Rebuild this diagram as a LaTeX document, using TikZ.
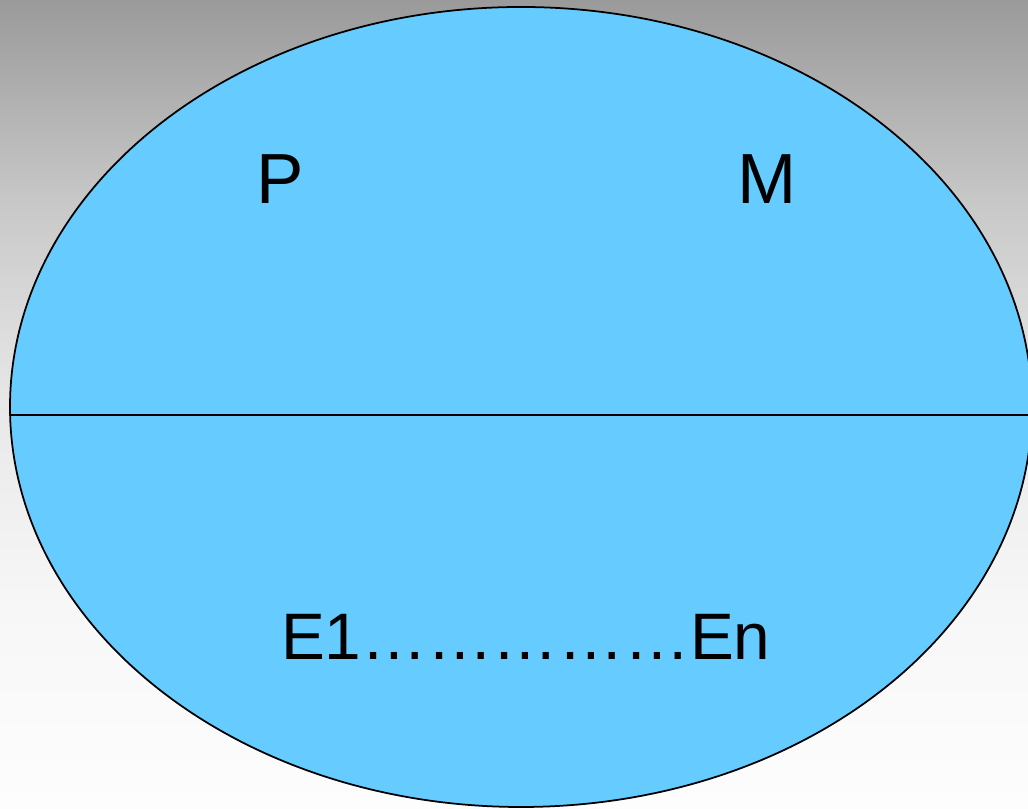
\documentclass[tikz,border=0pt]{standalone}
\usepackage{fontspec}
\setmainfont{Liberation Sans}
\usepackage{xcolor}
\usepackage{tikz}
\usetikzlibrary{shapes.geometric}

\definecolor{skyfill}{RGB}{102,204,255}
\definecolor{bgtop}{RGB}{154,154,154}
\definecolor{bgquart}{RGB}{200,200,200}
\definecolor{bgmid}{RGB}{232,232,232}
\definecolor{bglow}{RGB}{247,247,247}
\definecolor{bgbot}{RGB}{253,253,253}
% path box is mapped to 25bp..75bp
\pgfdeclareverticalshading{backfade}{100bp}{
  color(0bp)=(bgbot); color(25bp)=(bgbot); color(37.5bp)=(bglow);
  color(50bp)=(bgmid); color(62.5bp)=(bgquart); color(75bp)=(bgtop);
  color(100bp)=(bgtop)}

\begin{document}
\begin{tikzpicture}[
    every node/.style={inner sep=0pt},
    letter/.style={anchor=base, font=\fontsize{20.2}{24}\selectfont},
    elems/.style={anchor=base, font=\fontsize{18.7}{22}\selectfont},
    oval/.style={ellipse, draw=black, line width=0.5pt, fill=skyfill,
                 minimum width=10.22cm, minimum height=8cm}
]
\useasboundingbox (0,0) rectangle (10.28,8.09);
\clip (0,0) rectangle (10.28,8.09);
\shade[shading=backfade] (0,0) rectangle (10.28,8.09);

\node[oval] (world) at (5.21,4.02) {};
\coordinate (cutL) at (0.10,3.94);
\coordinate (cutR) at (10.30,3.94);
\draw[line width=0.4pt] (cutL) -- (cutR);

\node[letter] (P) at (2.80,6.05) {P};
\node[letter] (M) at (7.67,6.05) {M};
\node[elems] (E) at (5.257,1.49) {E1……………En};
\end{tikzpicture}
\end{document}
